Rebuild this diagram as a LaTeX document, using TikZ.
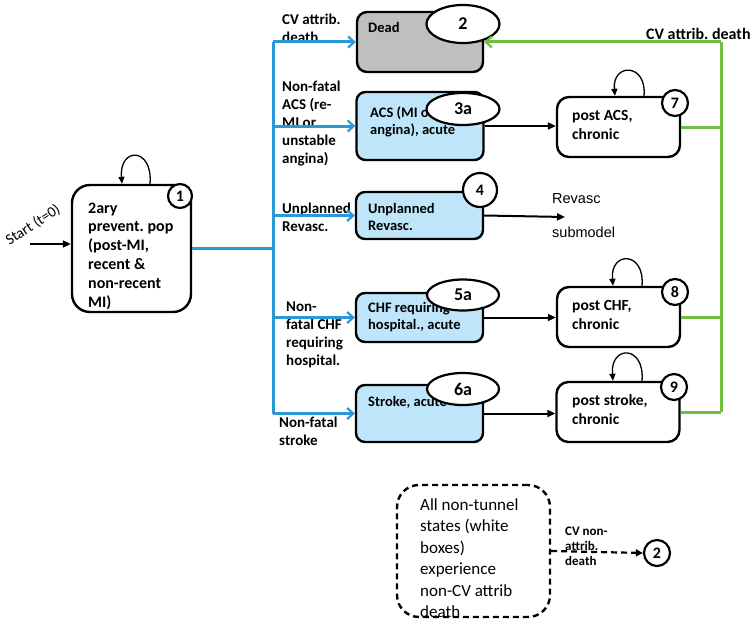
\documentclass[tikz,border=0pt]{standalone}
\usepackage{fontspec}
\setmainfont{Carlito}
\newfontfamily\arialfont{Liberation Sans}
\usetikzlibrary{arrows.meta,shapes.geometric}
\definecolor{lineblue}{RGB}{44,152,216}
\definecolor{fillblue}{RGB}{190,229,250}
\definecolor{linegreen}{RGB}{112,191,68}
\definecolor{deadgray}{RGB}{191,191,191}
\setlength{\parindent}{0pt}
\frenchspacing
\newcommand{\txtlines}[1]{\begin{tabular}[t]{@{}l@{}}#1\end{tabular}}
\begin{document}
\begin{tikzpicture}[x=1pt,y=-1pt,
  boxbase/.style={draw=black,line width=2.4pt,inner sep=0pt},
  bluebox/.style={boxbase,fill=fillblue,rounded corners=9pt,minimum width=127pt},
  whitebox/.style={boxbase,fill=white,rounded corners=12pt,minimum width=123pt,minimum height=60pt},
  numcirc/.style={circle,draw=black,line width=2.2pt,fill=white,inner sep=0pt,font=\fontsize{16}{16}\selectfont\bfseries},
  numell/.style={ellipse,draw=black,line width=2.2pt,fill=white,inner sep=0pt,font=\fontsize{18}{18}\selectfont\bfseries},
  txt/.style={inner sep=0pt,anchor=base west},
  lbl/.style={txt,font=\frenchspacing\fontsize{15}{18}\selectfont\bfseries},
  btxt/.style={txt,font=\frenchspacing\fontsize{14.5}{17.5}\selectfont\bfseries},
  ptxt/.style={txt,font=\frenchspacing\fontsize{15.5}{18.5}\selectfont\bfseries},
  blueline/.style={draw=lineblue,line width=3pt},
  bluearrow/.style={blueline,-{Straight Barb[length=6pt,width=11pt,line width=2.2pt]}},
  greenline/.style={draw=linegreen,line width=3pt},
  greenarrow/.style={greenline,-{Straight Barb[length=6pt,width=11pt,line width=2.2pt]}},
  blackarrow/.style={draw=black,line width=2pt,-{Triangle[length=8pt,width=7pt]}},
  loopline/.style={draw=black,line width=1.3pt,-{Triangle[length=7pt,width=6pt]}}
]
\useasboundingbox (0,0) rectangle (752,626);

% ---------- boxes ----------
\node[boxbase,fill=white,rounded corners=18pt,minimum width=119pt,minimum height=127pt] (n1) at (131.5,248.5) {};
\node[boxbase,fill=deadgray,rounded corners=10pt,minimum width=126pt,minimum height=60pt] (dead) at (420,42) {};
\node[bluebox,minimum height=68pt] (acs) at (420,126) {};
\node[bluebox,minimum height=47pt] (rev) at (419.5,215.5) {};
\node[bluebox,minimum height=49pt] (chf) at (419.5,317.5) {};
\node[bluebox,minimum height=57pt] (stk) at (419.5,413.5) {};
\node[whitebox] (pacs) at (618.5,127) {};
\node[whitebox] (pchf) at (618.5,317) {};
\node[whitebox] (pstk) at (618,412) {};
\node[draw=black,line width=2.4pt,dash pattern=on 6pt off 4pt,rounded corners=22pt,minimum width=153pt,minimum height=132pt,inner sep=0pt] (dbox) at (473.5,551) {};

% ---------- texts in boxes ----------
\node[txt,font=\frenchspacing\fontsize{16}{18.8}\selectfont\bfseries] (t1) at (88,213) {\txtlines{2ary\\prevent. pop\\(post-MI,\\recent \&\\non-recent\\MI)}};
\node[btxt] (tdead) at (368,33) {Dead};
\node[btxt] (tacs) at (370,117) {\txtlines{ACS (MI or\\angina), acute}};
\node[btxt] (trev) at (368,213) {\txtlines{Unplanned\\Revasc.}};
\node[btxt] (tchf) at (368,312) {\txtlines{CHF requiring\\hospital., acute}};
\node[btxt] (tstk) at (368,406) {Stroke, acute};
\node[ptxt] (tpacs) at (572,120.5) {\txtlines{post ACS,\\chronic}};
\node[ptxt] (tpchf) at (572,310.5) {\txtlines{post CHF,\\chronic}};
\node[ptxt] (tpstk) at (572,405.5) {\txtlines{post stroke,\\chronic}};
\node[txt,font=\frenchspacing\fontsize{17}{21.4}\selectfont] (tdbox) at (420,510.5) {\txtlines{All non-tunnel\\states (white\\boxes)\\experience\\non-CV attrib\\death}};

% ---------- number marks ----------
\node[numcirc,minimum size=24pt] (c1) at (180,196) {1};
\node[numell,minimum width=73pt,minimum height=38pt] (e2) at (463,24) {2};
\node[numell,minimum width=73pt,minimum height=32pt] (e3a) at (463,109) {3a};
\node[numcirc,minimum size=34pt] (c4) at (480,190) {4};
\node[numell,minimum width=72pt,minimum height=31pt] (e5a) at (463,295) {5a};
\node[numell,minimum width=72pt,minimum height=32pt] (e6a) at (463,389) {6a};
\node[numcirc,minimum size=26pt] (c7) at (675,103) {7};
\node[numcirc,minimum size=26pt] (c8) at (675,292) {8};
\node[numcirc,minimum size=26pt] (c9) at (674,387) {9};
\node[numcirc,minimum size=26pt] (c2b) at (657,553) {2};

% ---------- connector labels ----------
\node[lbl] (lcv) at (282,24.5) {\txtlines{CV attrib.\\death}};
\node[lbl] (lacs) at (282,91.3) {\txtlines{Non-fatal\\ACS (re-\\MI or\\unstable\\angina)}};
\node[lbl] (lrev) at (282,213.3) {\txtlines{Unplanned\\Revasc.}};
\node[lbl] (lchf) at (286,311) {\txtlines{Non-\\fatal CHF\\requiring\\hospital.}};
\node[lbl] (lstk) at (279,427.5) {\txtlines{Non-fatal\\stroke}};
\node[txt,font=\frenchspacing\fontsize{16}{18}\selectfont\bfseries] (lcvr) at (646,39.5) {CV attrib. death};
\node[txt,font=\arialfont\fontsize{14.5}{17}\selectfont] (lrs1) at (552,203) {Revasc};
\node[txt,font=\arialfont\fontsize{14.5}{17}\selectfont] (lrs2) at (552,237.5) {submodel};
\node[txt,font=\fontsize{13}{15.2}\selectfont\bfseries] (lcvn) at (565,535) {\txtlines{CV non-\\attrib.\\death}};
\node[inner sep=0pt,rotate=33,font=\fontsize{15}{17}\selectfont] (lstart) at (33,225) {Start (t=0)};

% ---------- start arrow ----------
\coordinate (startpt) at (30,244);
\draw[blackarrow] (startpt) -- (startpt -| n1.west);

% ---------- self loops ----------
\draw[loopline] ([xshift=18.5pt]n1.north) .. controls +(3,-37) and +(-3,-37) .. ([xshift=-9.5pt]n1.north);
\draw[loopline] ([xshift=25.5pt]pacs.north) .. controls +(3,-33) and +(-3,-33) .. ([xshift=-3.5pt]pacs.north);
\draw[loopline] ([xshift=23.5pt]pchf.north) .. controls +(3,-35) and +(-3,-35) .. ([xshift=-5.5pt]pchf.north);
\draw[loopline] ([xshift=24pt]pstk.north) .. controls +(3,-36) and +(-3,-36) .. ([xshift=-5pt]pstk.north);

% ---------- blue transitions ----------
\coordinate (tTop) at (273,42);
\draw[blueline] (n1.east) -- (n1.east -| tTop);
\draw[blueline] (tTop) -- (stk.west -| tTop);
\draw[bluearrow] (tTop) -- (dead.west);
\draw[bluearrow] (acs.west -| tTop) -- (acs.west);
\draw[bluearrow] (rev.west -| tTop) -- (rev.west);
\draw[bluearrow] (chf.west -| tTop) -- (chf.west);
\draw[bluearrow] (stk.west -| tTop) -- (stk.west);

% ---------- acute to chronic ----------
\coordinate (revend) at (565,217);
\draw[blackarrow] (acs.east) -- (acs.east -| pacs.west);
\draw[blackarrow] (rev.east) -- (revend);
\draw[blackarrow] (chf.east) -- (chf.east -| pchf.west);
\draw[blackarrow] (stk.east) -- (stk.east -| pstk.west);

% ---------- green death transitions ----------
\coordinate (gTop) at (721,42);
\draw[greenline] (pacs.east) -- (pacs.east -| gTop);
\draw[greenline] (pchf.east) -- (pchf.east -| gTop);
\draw[greenline] (pstk.east) -- (pstk.east -| gTop);
\draw[greenline] (pstk.east -| gTop) -- (gTop);
\draw[greenarrow] (gTop) -- (dead.east);

% ---------- non-CV death ----------
\draw[draw=black,line width=2.2pt,dash pattern=on 6pt off 4pt,-{Triangle[length=7pt,width=7pt]}] (dbox.east) -- (c2b.west);
\end{tikzpicture}
\end{document}
